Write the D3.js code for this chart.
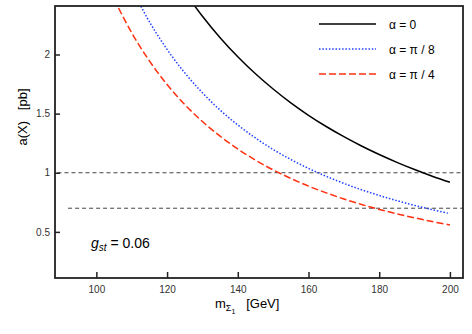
<!DOCTYPE html>
<html>
<head>
<meta charset="utf-8">
<script src="https://cdn.jsdelivr.net/npm/d3@7"></script>
<style>
  body { margin: 0; background: #fff; }
  svg text { font-family: "Liberation Sans", Arial, sans-serif; white-space: pre; }
</style>
</head>
<body>
<div id="chart"></div>
<script>
// values
const mass = [105, 110, 115, 120, 125, 130, 135, 140, 145, 150, 155, 160, 165, 170, 175, 180, 185, 190, 195, 200];
const alpha0 = [null, null, null, null, 2.527, 2.323, 2.142, 1.981, 1.837, 1.708, 1.591, 1.486, 1.391, 1.305, 1.226, 1.154, 1.088, 1.027, 0.971, 0.920];
const alphaPi8 = [null, 2.556, 2.277, 2.043, 1.845, 1.676, 1.530, 1.404, 1.294, 1.197, 1.112, 1.037, 0.970, 0.910, 0.856, 0.808, 0.764, 0.724, 0.688, 0.655];
const alphaPi4 = [2.468, 2.183, 1.946, 1.746, 1.577, 1.433, 1.309, 1.201, 1.107, 1.024, 0.952, 0.887, 0.830, 0.778, 0.732, 0.690, 0.653, 0.619, 0.587, 0.559];
const seriesNames = ["α = 0", "α = π / 8", "α = π / 4"];
const refLevels = [1.0, 0.7];
const refStart = [89, 92];
const xTicks = [100, 120, 140, 160, 180, 200];
const yTicks = [0.5, 1, 1.5, 2];

const width = 472, height = 334;
const margin = {top: 6, right: 9, bottom: 56, left: 55};
const w = width - margin.left - margin.right;
const h = height - margin.top - margin.bottom;

const svg = d3.select("#chart").append("svg")
    .attr("width", width)
    .attr("height", height);

const g = svg.append("g")
    .attr("transform", `translate(${margin.left},${margin.top})`);

const x = d3.scaleLinear().domain([88.3, 203.7]).range([0, w]);
const y = d3.scaleLinear().domain([0.11, 2.41]).range([h, 0]);

svg.append("defs").append("clipPath").attr("id", "clip")
    .append("rect").attr("width", w).attr("height", h);

// minor + major ticks, pointing inward
const xAxis = g.append("g").attr("transform", `translate(0,${h})`);
xAxis.call(d3.axisBottom(x).tickValues(d3.range(90, 205, 5)).tickSize(-3).tickFormat(""));
xAxis.call(d3.axisBottom(x).tickValues(xTicks).tickSize(-6).tickPadding(8).tickFormat(d3.format("d")));

const yAxis = g.append("g");
yAxis.call(d3.axisLeft(y).tickValues(d3.range(2, 25).map(d => d / 10)).tickSize(-3).tickFormat(""));
yAxis.call(d3.axisLeft(y).tickValues(yTicks).tickSize(-5).tickPadding(5).tickFormat(d => d));

g.selectAll(".domain").remove();
g.selectAll(".tick line").attr("stroke", "#222").attr("stroke-width", 1.5);
g.selectAll(".tick text").attr("fill", "#333").style("font-size", "10px");

// reference lines
refLevels.forEach((lv, i) => {
  g.append("line")
      .attr("x1", x(refStart[i])).attr("x2", x(203.7))
      .attr("y1", y(lv)).attr("y2", y(lv))
      .attr("stroke", "#444").attr("stroke-width", 1)
      .attr("stroke-dasharray", "4,3");
});

const series = [
  {vals: alpha0, color: "#000", dash: null},
  {vals: alphaPi8, color: "#2040ff", dash: "1.5,1.8"},
  {vals: alphaPi4, color: "#ff3010", dash: "7,3"}
];

const line = d3.line()
    .defined(d => d[1] != null)
    .x(d => x(d[0]))
    .y(d => y(d[1]))
    .curve(d3.curveCatmullRom);

const plot = g.append("g").attr("clip-path", "url(#clip)");
series.forEach(s => {
  plot.append("path")
      .datum(mass.map((m, i) => [m, s.vals[i]]))
      .attr("d", line)
      .attr("fill", "none")
      .attr("stroke", s.color)
      .attr("stroke-width", 1.5)
      .attr("stroke-dasharray", s.dash);
});

// frame
g.append("rect")
    .attr("width", w).attr("height", h)
    .attr("fill", "none").attr("stroke", "#222").attr("stroke-width", 1.8);

// legend
const legend = g.append("g").attr("transform", "translate(264,18)");
series.forEach((s, i) => {
  legend.append("line")
      .attr("x1", 0).attr("x2", 57)
      .attr("y1", i * 25).attr("y2", i * 25)
      .attr("stroke", s.color).attr("stroke-width", 1.5)
      .attr("stroke-dasharray", s.dash);
  legend.append("text")
      .attr("x", 70).attr("y", i * 25 + 4.5)
      .style("font-size", "12px")
      .text(seriesNames[i]);
});

// coupling annotation
const ann = g.append("text").attr("x", 36).attr("y", 242).style("font-size", "14px");
ann.append("tspan").style("font-style", "italic").text("g");
ann.append("tspan").style("font-style", "italic").style("font-size", "10px").attr("dy", 3).text("st");
ann.append("tspan").attr("dy", -3).text(" = 0.06");

// axis titles
svg.append("text")
    .attr("transform", "translate(27,117) rotate(-90)")
    .attr("text-anchor", "middle")
    .style("font-size", "13px")
    .text("a(X)   [pb]");

const xt = svg.append("text").attr("x", 215).attr("y", 308).style("font-size", "13px");
xt.append("tspan").text("m");
xt.append("tspan").attr("dy", 3).style("font-size", "9px").text("Σ");
xt.append("tspan").attr("dy", 3).style("font-size", "7px").text("1");
xt.append("tspan").attr("dy", -6).text("   [GeV]");
</script>
</body>
</html>
